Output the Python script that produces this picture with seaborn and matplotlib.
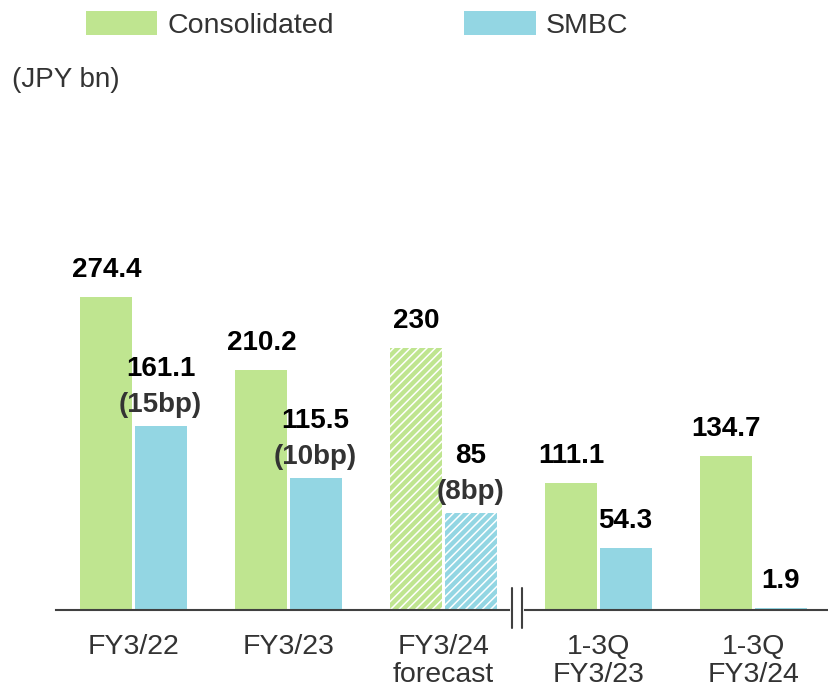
import matplotlib
matplotlib.use("Agg")
import matplotlib.pyplot as plt
from matplotlib.patches import Patch
import seaborn as sns
import pandas as pd

# ---- data ----
categories = ["FY3/22", "FY3/23", "FY3/24\nforecast", "1-3Q\nFY3/23", "1-3Q\nFY3/24"]
consolidated = [274.4, 210.2, 230, 111.1, 134.7]
smbc = [161.1, 115.5, 85, 54.3, 1.9]
consolidated_labels = ["274.4", "210.2", "230", "111.1", "134.7"]
smbc_labels = ["161.1", "115.5", "85", "54.3", "1.9"]
smbc_bp = ["(15bp)", "(10bp)", "(8bp)", "", ""]
series = ["Consolidated", "SMBC"]
forecast_index = 2

GREEN = "#BFE590"
BLUE = "#93D6E3"
AXIS = "#404040"
TXT = "#333333"

df = pd.DataFrame({
    "category": categories * 2,
    "series": [series[0]] * len(categories) + [series[1]] * len(categories),
    "value": consolidated + smbc,
})

sns.set_style("white")
plt.rcParams["font.family"] = ["Liberation Sans", "DejaVu Sans"]
plt.rcParams["hatch.linewidth"] = 1.1

fig = plt.figure(figsize=(8.29, 6.90), dpi=100)
ax = fig.add_axes([56 / 829, 80 / 690, 775 / 829, 500 / 690])

sns.barplot(data=df, x="category", y="value", hue="series", order=categories,
            hue_order=series, palette=[GREEN, BLUE], saturation=1, width=0.7,
            gap=0.04, linewidth=0, ax=ax, legend=False)

ax.set_xlim(-0.5, 4.5)
ax.set_ylim(0, 500 / 1.141)

# hatched forecast bars
for cont in ax.containers:
    bar = cont[forecast_index]
    bar.set_edgecolor("white")
    bar.set_linewidth(0)
    bar.set_hatch("////")

# value labels
LABEL_FS = 20
for k, (cont, labels) in enumerate(((ax.containers[0], consolidated_labels),
                                    (ax.containers[1], smbc_labels))):
    for i, bar in enumerate(cont):
        x = bar.get_x() + bar.get_width() / 2
        h = bar.get_height()
        bp = smbc_bp[i] if k == 1 else ""
        if bp:
            ax.annotate(bp, (x, h), xytext=(0, 14), textcoords="offset pixels",
                        ha="center", va="baseline", fontsize=LABEL_FS,
                        fontweight="bold", color=TXT)
            ax.annotate(labels[i], (x, h), xytext=(0, 50), textcoords="offset pixels",
                        ha="center", va="baseline", fontsize=LABEL_FS,
                        fontweight="bold", color="black")
        else:
            ax.annotate(labels[i], (x, h), xytext=(0, 20), textcoords="offset pixels",
                        ha="center", va="baseline", fontsize=LABEL_FS,
                        fontweight="bold", color="black")

# axes styling
sns.despine(ax=ax, left=True, top=True, right=True, bottom=False)
ax.spines["bottom"].set_color(AXIS)
ax.spines["bottom"].set_linewidth(1.5)
ax.set_yticks([])
ax.set_xlabel("")
ax.set_ylabel("")
ax.set_xticks(range(len(categories)))
ax.set_xticklabels(categories, fontsize=20.5, color=TXT, linespacing=1.1)
ax.tick_params(axis="x", which="major", length=0, pad=17)
ax.set_xticks([-0.5, 0.5, 1.5, 3.5], minor=True)
ax.tick_params(axis="x", which="minor", direction="in", length=6, width=1.5,
               color=AXIS)

# axis break
ax.plot([2.445, 2.505], [0, 0], color="white", lw=3, clip_on=False, zorder=5)
for bx in (2.445, 2.505):
    ax.plot([bx, bx], [19.3, -15.8], color=AXIS, lw=1.5, clip_on=False, zorder=6)

# legend
handles = [Patch(facecolor=GREEN, edgecolor="none", label=series[0]),
           Patch(facecolor=BLUE, edgecolor="none", label=series[1])]
fig.legend(handles=handles, loc="center", bbox_to_anchor=(357 / 829, 1 - 25 / 690),
           ncol=2, frameon=False, fontsize=20.5, handlelength=2.5,
           handleheight=0.9, handletextpad=0.35, columnspacing=4.6,
           labelcolor=TXT, borderpad=0, borderaxespad=0)

fig.text(12 / 829, 1 - 80 / 690, "(JPY bn)", fontsize=20, color=TXT,
         ha="left", va="center")

fig.savefig("out.png", dpi=100)
